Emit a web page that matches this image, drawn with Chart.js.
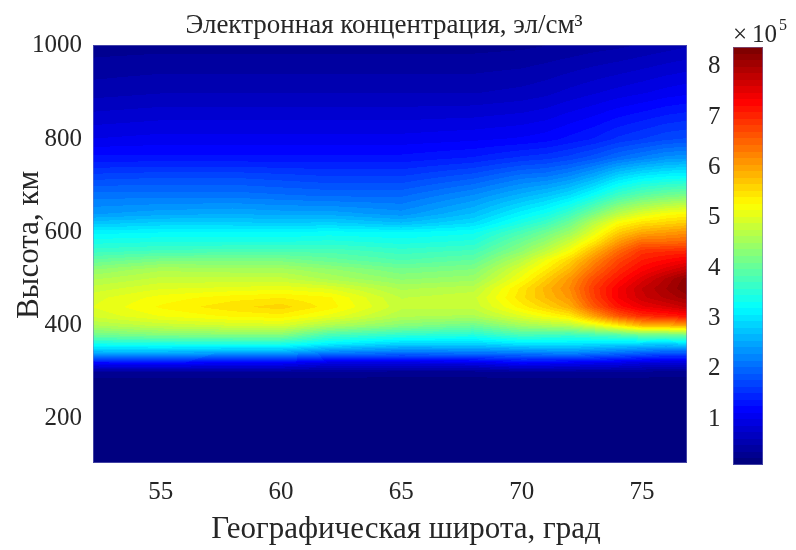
<!DOCTYPE html>
<html>
<head>
<meta charset="utf-8">
<script src="https://cdn.jsdelivr.net/npm/chart.js@4.4.0/dist/chart.umd.min.js"></script>
<style>
  html, body { margin: 0; padding: 0; background: #fff; }
  #wrap { width: 796px; height: 550px; }
</style>
</head>
<body>
<div id="wrap"><canvas id="chart" width="796" height="550"></canvas></div>
<script>
// grid of the field: latitude (deg) x altitude (km)
const latitudes = [52, 55, 58, 60, 62, 65, 68, 70, 71, 72, 73, 74, 75, 76, 77];
const altitudes = [100, 200, 280, 300, 320, 340, 360, 380, 400, 420, 440, 460, 480, 500,
                   520, 540, 560, 580, 600, 620, 640, 680, 720, 760, 800, 900, 1000];

// electron density profiles, x1e5 el/cm3, one value per altitude above
const ne52 = [0.1, 0.1, 0.15, 0.35, 1.2, 2.5, 3.35, 4.1, 4.6, 4.9, 5.0, 4.95, 4.8, 4.6,
              4.35, 4.0, 3.65, 3.4, 3.15, 2.75, 2.4, 2.1, 1.7, 1.3, 1.0, 0.55, 0.28];
const ne55 = [0.1, 0.1, 0.15, 0.35, 1.25, 2.5, 3.4, 4.25, 4.8, 5.15, 5.3, 5.2, 5.0, 4.8,
              4.6, 4.2, 3.75, 3.45, 3.2, 2.85, 2.5, 2.1, 1.75, 1.3, 1.05, 0.6, 0.3];
const ne58 = [0.1, 0.1, 0.15, 0.35, 1.15, 2.4, 3.4, 4.3, 4.9, 5.3, 5.5, 5.35, 5.05, 4.8,
              4.55, 4.2, 3.8, 3.45, 3.2, 2.85, 2.55, 2.1, 1.75, 1.3, 1.05, 0.6, 0.3];
const ne60 = [0.1, 0.1, 0.15, 0.35, 1.15, 2.4, 3.4, 4.3, 4.95, 5.35, 5.6, 5.4, 5.1, 4.8,
              4.55, 4.2, 3.8, 3.45, 3.2, 2.8, 2.5, 2.05, 1.7, 1.3, 1.05, 0.6, 0.3];
const ne62 = [0.1, 0.1, 0.15, 0.33, 0.95, 2.1, 3.1, 3.8, 4.6, 5.1, 5.35, 5.3, 5.0, 4.6,
              4.4, 4.05, 3.8, 3.5, 3.25, 2.85, 2.5, 2.0, 1.65, 1.3, 1.05, 0.6, 0.3];
const ne65 = [0.1, 0.1, 0.15, 0.3, 0.95, 2.0, 2.85, 3.6, 4.3, 4.65, 4.8, 4.75, 4.6, 4.35,
              4.15, 3.85, 3.65, 3.4, 3.2, 2.7, 2.35, 2.0, 1.65, 1.3, 1.05, 0.6, 0.3];
const ne68 = [0.1, 0.1, 0.15, 0.3, 1.0, 2.05, 2.85, 3.5, 4.1, 4.6, 4.8, 4.85, 4.7, 4.45,
              4.25, 4.0, 3.75, 3.5, 3.3, 2.95, 2.7, 2.3, 1.85, 1.4, 1.1, 0.6, 0.3];
const ne70 = [0.1, 0.1, 0.15, 0.35, 1.2, 2.1, 3.0, 3.8, 4.5, 5.0, 5.35, 5.5, 5.45, 5.2,
              5.0, 4.7, 4.35, 4.1, 3.8, 3.45, 3.15, 2.6, 2.1, 1.55, 1.15, 0.65, 0.32];
const ne71 = [0.1, 0.1, 0.15, 0.35, 1.15, 2.15, 3.0, 3.75, 4.6, 5.2, 5.6, 5.8, 5.85, 5.65,
              5.4, 5.15, 4.75, 4.4, 4.1, 3.7, 3.35, 2.75, 2.15, 1.6, 1.2, 0.7, 0.35];
const ne72 = [0.1, 0.1, 0.15, 0.35, 1.1, 2.2, 3.0, 3.7, 4.7, 5.4, 5.9, 6.1, 6.2, 6.1,
              5.85, 5.6, 5.2, 4.85, 4.45, 4.1, 3.7, 2.95, 2.3, 1.7, 1.3, 0.78, 0.38];
const ne73 = [0.11, 0.11, 0.15, 0.35, 1.05, 2.1, 2.95, 3.8, 5.0, 6.0, 6.6, 6.8, 6.85, 6.7,
              6.45, 6.2, 5.85, 5.4, 5.05, 4.7, 4.2, 3.3, 2.55, 1.85, 1.4, 0.85, 0.42];
const ne74 = [0.12, 0.12, 0.15, 0.35, 1.0, 2.0, 2.9, 3.9, 5.4, 6.6, 7.15, 7.35, 7.35, 7.15,
              6.95, 6.75, 6.45, 6.05, 5.65, 5.25, 4.7, 3.7, 2.9, 2.05, 1.55, 0.92, 0.45];
const ne75 = [0.13, 0.13, 0.15, 0.32, 0.9, 1.9, 2.85, 4.1, 5.85, 6.95, 7.45, 7.7, 7.75, 7.55,
              7.3, 7.1, 6.9, 6.45, 5.95, 5.5, 5.0, 3.95, 3.1, 2.2, 1.65, 0.98, 0.5];
const ne76 = [0.15, 0.15, 0.15, 0.3, 0.85, 1.8, 2.8, 4.1, 5.9, 7.05, 7.6, 7.9, 8.0, 7.9,
              7.55, 7.25, 6.95, 6.45, 6.05, 5.6, 5.2, 4.1, 3.2, 2.35, 1.75, 1.05, 0.55];
const ne77 = [0.15, 0.15, 0.15, 0.3, 0.85, 1.8, 2.9, 4.2, 6.0, 7.2, 7.8, 8.1, 8.3, 8.25,
              7.8, 7.4, 7.0, 6.5, 6.15, 5.7, 5.3, 4.2, 3.25, 2.4, 1.8, 1.1, 0.6];
const profiles = [ne52, ne55, ne58, ne60, ne62, ne65, ne68, ne70, ne71, ne72, ne73, ne74, ne75, ne76, ne77];

const xTicks = [55, 60, 65, 70, 75];
const yTicks = [200, 400, 600, 800, 1000];
const cbTicks = [1, 2, 3, 4, 5, 6, 7, 8];
const colorLimits = [0.09, 8.39];

const titleText = 'Электронная концентрация, эл/см³';
const xLabel = 'Географическая широта, град';
const yLabel = 'Высота, км';

const FONT = '"Liberation Serif", "Times New Roman", serif';
const TEXT = '#262626';

function clamp01(v) { return v < 0 ? 0 : (v > 1 ? 1 : v); }

// MATLAB jet with 64 levels
function jet(v) {
  let t = clamp01((v - colorLimits[0]) / (colorLimits[1] - colorLimits[0]));
  t = Math.min(63, Math.floor(t * 64)) / 63;
  return [
    Math.round(255 * clamp01(1.5 - Math.abs(4 * t - 3))),
    Math.round(255 * clamp01(1.5 - Math.abs(4 * t - 2))),
    Math.round(255 * clamp01(1.5 - Math.abs(4 * t - 1)))
  ];
}

function locate(arr, v) {
  let i = 0;
  while (i < arr.length - 2 && v > arr[i + 1]) i++;
  const f = clamp01((v - arr[i]) / (arr[i + 1] - arr[i]));
  return [i, f];
}

function fieldAt(lat, alt) {
  const [i, fx] = locate(latitudes, lat);
  const [j, fy] = locate(altitudes, alt);
  const a = profiles[i][j], b = profiles[i + 1][j];
  const c = profiles[i][j + 1], d = profiles[i + 1][j + 1];
  return (a * (1 - fx) + b * fx) * (1 - fy) + (c * (1 - fx) + d * fx) * fy;
}

const fieldPlugin = {
  id: 'field',
  beforeDatasetsDraw(chart) {
    const { ctx, chartArea, scales } = chart;
    const w = Math.round(chartArea.right - chartArea.left);
    const h = Math.round(chartArea.bottom - chartArea.top);
    const img = ctx.createImageData(w, h);
    const lats = [];
    for (let i = 0; i < w; i++) lats.push(scales.x.getValueForPixel(chartArea.left + i + 0.5));
    for (let j = 0; j < h; j++) {
      const alt = scales.y.getValueForPixel(chartArea.top + j + 0.5);
      for (let i = 0; i < w; i++) {
        const col = jet(fieldAt(lats[i], alt));
        const k = (j * w + i) * 4;
        img.data[k] = col[0]; img.data[k + 1] = col[1]; img.data[k + 2] = col[2]; img.data[k + 3] = 255;
      }
    }
    ctx.putImageData(img, Math.round(chartArea.left), Math.round(chartArea.top));
  },
  afterDraw(chart) {
    const { ctx, chartArea, scales } = chart;
    ctx.save();
    ctx.strokeStyle = 'rgba(120,120,190,0.55)';
    ctx.lineWidth = 1;
    ctx.strokeRect(chartArea.left + 0.5, chartArea.top + 0.5,
                   chartArea.right - chartArea.left - 1, chartArea.bottom - chartArea.top - 1);

    // colorbar
    const cb = scales.cb;
    const x0 = 733, x1 = 763;
    const yTop = Math.round(cb.getPixelForValue(colorLimits[1]));
    const yBot = Math.round(cb.getPixelForValue(colorLimits[0]));
    for (let y = yTop; y < yBot; y++) {
      const col = jet(cb.getValueForPixel(y + 0.5));
      ctx.fillStyle = 'rgb(' + col.join(',') + ')';
      ctx.fillRect(x0, y, x1 - x0, 1);
    }
    ctx.strokeRect(x0 + 0.5, yTop + 0.5, x1 - x0 - 1, yBot - yTop - 1);

    ctx.fillStyle = TEXT;
    ctx.textBaseline = 'alphabetic';
    ctx.textAlign = 'left';
    ctx.font = '25px ' + FONT;
    ctx.fillText('\u00d7', 733, 42);
    ctx.fillText('10', 752, 42);
    ctx.font = '16px ' + FONT;
    ctx.fillText('5', 779, 30);

    // title and axis labels
    ctx.textAlign = 'center';
    ctx.font = '27px ' + FONT;
    ctx.fillText(titleText, 384, 33);
    ctx.font = '31px ' + FONT;
    ctx.fillText(xLabel, 406, 538);
    ctx.translate(38, 245);
    ctx.rotate(-Math.PI / 2);
    ctx.fillText(yLabel, 0, 0);
    ctx.restore();
  }
};

const points = [];
latitudes.forEach((lat, i) => altitudes.forEach((alt, j) => points.push({ x: lat, y: alt, v: profiles[i][j] })));

function fixedTicks(values) {
  return scale => { scale.ticks = values.map(v => ({ value: v })); };
}
const plain = v => String(v);

new Chart(document.getElementById('chart'), {
  type: 'scatter',
  data: {
    datasets: [{ data: points, pointRadius: 0, pointHoverRadius: 0, yAxisID: 'y' }]
  },
  plugins: [fieldPlugin],
  options: {
    responsive: false,
    animation: false,
    devicePixelRatio: 1,
    layout: { padding: { top: 45 } },
    plugins: {
      legend: { display: false },
      tooltip: { enabled: false },
      title: { display: false }
    },
    scales: {
      x: {
        type: 'linear', min: 52.19, max: 76.87,
        afterBuildTicks: fixedTicks(xTicks),
        afterFit: s => { s.height = 87; },
        grid: { display: false, drawTicks: false },
        border: { display: false },
        ticks: { color: TEXT, font: { family: FONT, size: 25 }, padding: 14, callback: plain }
      },
      y: {
        type: 'linear', position: 'left', min: 105, max: 1002,
        afterBuildTicks: fixedTicks(yTicks),
        afterFit: s => { s.width = 93; },
        grid: { display: false, drawTicks: false },
        border: { display: false },
        ticks: { color: TEXT, font: { family: FONT, size: 25 }, padding: 11, callback: plain }
      },
      cb: {
        type: 'linear', axis: 'y', position: 'right', min: 0.13, max: 8.43,
        afterBuildTicks: fixedTicks(cbTicks),
        afterFit: s => { s.width = 109; },
        grid: { display: false, drawTicks: false },
        border: { display: false },
        ticks: { color: TEXT, font: { family: FONT, size: 25 }, padding: 21, callback: plain }
      }
    }
  }
});
</script>
</body>
</html>
